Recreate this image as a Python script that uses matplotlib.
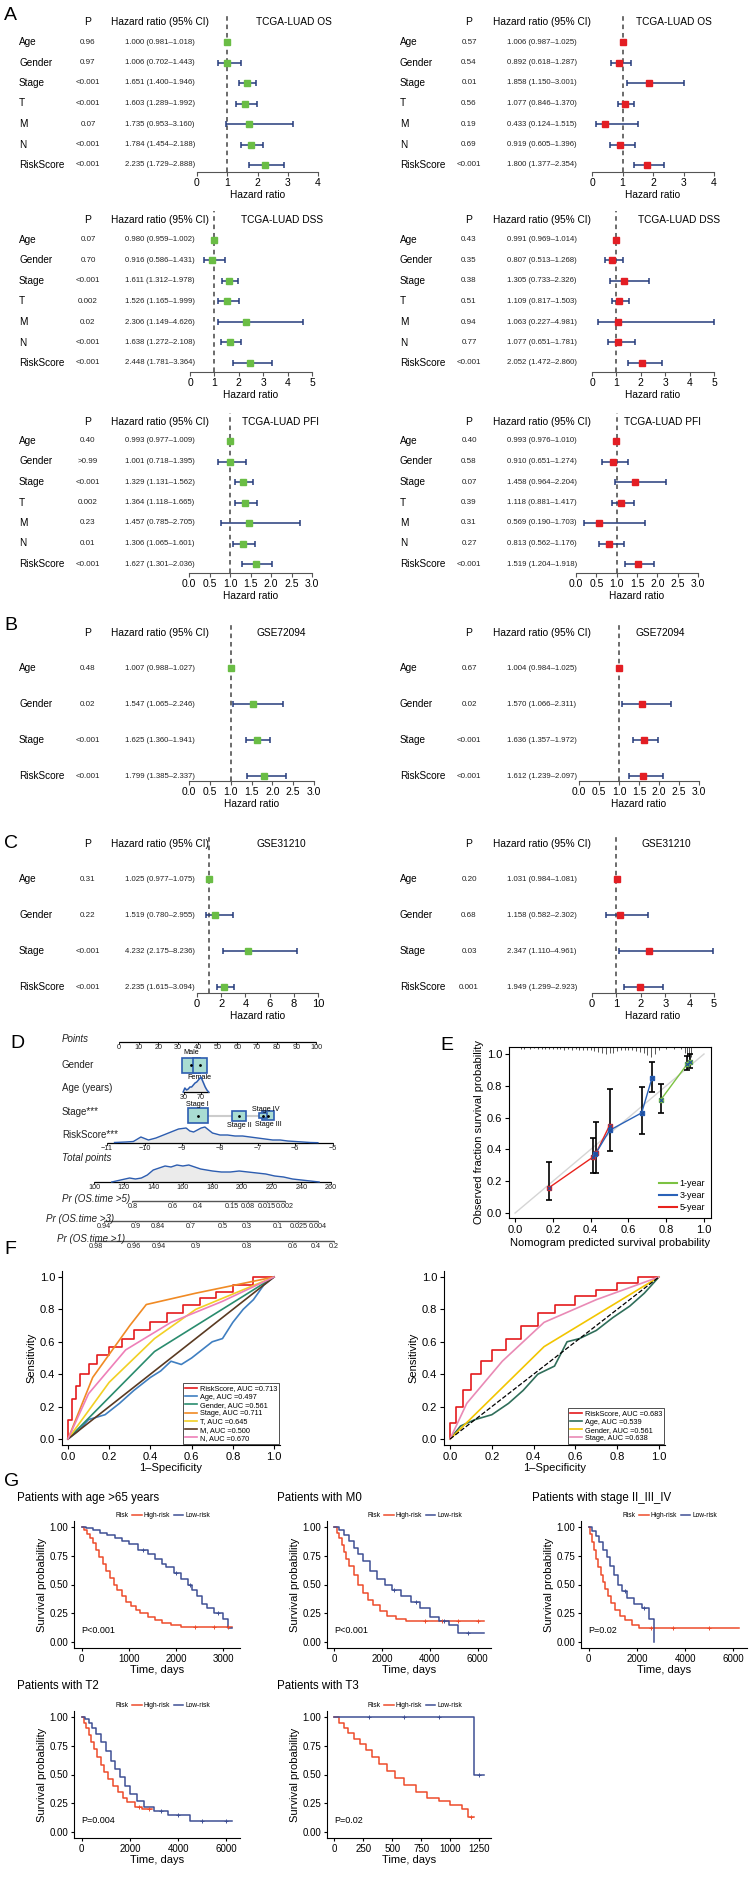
import numpy as np
import matplotlib
matplotlib.use("Agg")
import matplotlib.pyplot as plt
from matplotlib.transforms import blended_transform_factory
from matplotlib.lines import Line2D
from matplotlib.patches import Rectangle

plt.rcParams['font.family'] = ['Liberation Sans', 'DejaVu Sans']

# ---------------- data: forest plots ----------------
vars7 = ["Age", "Gender", "Stage", "T", "M", "N", "RiskScore"]
vars4 = ["Age", "Gender", "Stage", "RiskScore"]

os_uni_p = ["0.96", "0.97", "<0.001", "<0.001", "0.07", "<0.001", "<0.001"]
os_uni_hr = [1.000, 1.006, 1.651, 1.603, 1.735, 1.784, 2.235]
os_uni_lo = [0.981, 0.702, 1.400, 1.289, 0.953, 1.454, 1.729]
os_uni_hi = [1.018, 1.443, 1.946, 1.992, 3.160, 2.188, 2.888]

os_multi_p = ["0.57", "0.54", "0.01", "0.56", "0.19", "0.69", "<0.001"]
os_multi_hr = [1.006, 0.892, 1.858, 1.077, 0.433, 0.919, 1.800]
os_multi_lo = [0.987, 0.618, 1.150, 0.846, 0.124, 0.605, 1.377]
os_multi_hi = [1.025, 1.287, 3.001, 1.370, 1.515, 1.396, 2.354]

dss_uni_p = ["0.07", "0.70", "<0.001", "0.002", "0.02", "<0.001", "<0.001"]
dss_uni_hr = [0.980, 0.916, 1.611, 1.526, 2.306, 1.638, 2.448]
dss_uni_lo = [0.959, 0.586, 1.312, 1.165, 1.149, 1.272, 1.781]
dss_uni_hi = [1.002, 1.431, 1.978, 1.999, 4.626, 2.108, 3.364]

dss_multi_p = ["0.43", "0.35", "0.38", "0.51", "0.94", "0.77", "<0.001"]
dss_multi_hr = [0.991, 0.807, 1.305, 1.109, 1.063, 1.077, 2.052]
dss_multi_lo = [0.969, 0.513, 0.733, 0.817, 0.227, 0.651, 1.472]
dss_multi_hi = [1.014, 1.268, 2.326, 1.503, 4.981, 1.781, 2.860]

pfi_uni_p = ["0.40", ">0.99", "<0.001", "0.002", "0.23", "0.01", "<0.001"]
pfi_uni_hr = [0.993, 1.001, 1.329, 1.364, 1.457, 1.306, 1.627]
pfi_uni_lo = [0.977, 0.718, 1.131, 1.118, 0.785, 1.065, 1.301]
pfi_uni_hi = [1.009, 1.395, 1.562, 1.665, 2.705, 1.601, 2.036]

pfi_multi_p = ["0.40", "0.58", "0.07", "0.39", "0.31", "0.27", "<0.001"]
pfi_multi_hr = [0.993, 0.910, 1.458, 1.118, 0.569, 0.813, 1.519]
pfi_multi_lo = [0.976, 0.651, 0.964, 0.881, 0.190, 0.562, 1.204]
pfi_multi_hi = [1.010, 1.274, 2.204, 1.417, 1.703, 1.176, 1.918]

g72_uni_p = ["0.48", "0.02", "<0.001", "<0.001"]
g72_uni_hr = [1.007, 1.547, 1.625, 1.799]
g72_uni_lo = [0.988, 1.065, 1.360, 1.385]
g72_uni_hi = [1.027, 2.246, 1.941, 2.337]

g72_multi_p = ["0.67", "0.02", "<0.001", "<0.001"]
g72_multi_hr = [1.004, 1.570, 1.636, 1.612]
g72_multi_lo = [0.984, 1.066, 1.357, 1.239]
g72_multi_hi = [1.025, 2.311, 1.972, 2.097]

g31_uni_p = ["0.31", "0.22", "<0.001", "<0.001"]
g31_uni_hr = [1.025, 1.519, 4.232, 2.235]
g31_uni_lo = [0.977, 0.780, 2.175, 1.615]
g31_uni_hi = [1.075, 2.955, 8.236, 3.094]

g31_multi_p = ["0.20", "0.68", "0.03", "0.001"]
g31_multi_hr = [1.031, 1.158, 2.347, 1.949]
g31_multi_lo = [0.984, 0.582, 1.110, 1.299]
g31_multi_hi = [1.081, 2.302, 4.961, 2.923]

# ---------------- data: nomogram ----------------
points_ticks = [0, 10, 20, 30, 40, 50, 60, 70, 80, 90, 100]
gender_levels = ["Male", "Female"]
gender_pts = [36.5, 41.0]
gender_box_w = [9.0, 7.2]
age_ticks = [30, 70]
age_dens_x = [28, 32, 36, 40, 44, 48, 52, 56, 60, 64, 68, 70, 72, 76, 80, 84, 88]
age_dens_h = [0, 4, 2, 3, 5, 5, 7, 9, 10, 12, 14, 15, 13, 9, 5, 2, 0]
stage_levels = ["Stage I", "Stage II", "Stage III", "Stage IV"]
stage_pts = [40.0, 61.0, 75.6, 73.0]
stage_box_w = [10.0, 7.0, 6.0, 4.0]
stage_box_h = [15, 10, 9, 5]
rs_ticks = [-11, -10, -9, -8, -7, -6, -5]
rs_dens_x = [-10.8, -10.5, -10.3, -10.1, -9.9, -9.7, -9.5, -9.3, -9.1, -8.9, -8.8, -8.7, -8.6, -8.5,
             -8.4, -8.3, -8.2, -8.1, -8.0, -7.8, -7.6, -7.4, -7.2, -7.0, -6.8, -6.6, -6.4, -6.2,
             -6.0, -5.8, -5.6, -5.4]
rs_dens_h = [0.5, 1, 1.5, 6, 3, 5, 8, 11, 14, 15, 12, 11, 13, 15, 16, 13, 10, 9, 8, 8, 7, 7, 6, 5,
             4, 3, 3, 2, 1.5, 1, 0.5, 0.3]
tp_ticks = [100, 120, 140, 160, 180, 200, 220, 240, 260]
tp_dens_x = [112, 118, 124, 128, 132, 136, 140, 144, 148, 152, 156, 160, 164, 168, 172, 176, 180,
             186, 192, 198, 204, 210, 216, 222, 228, 234, 240, 246, 252]
tp_dens_h = [0, 2, 4, 3, 4, 7, 12, 14, 16, 15, 17, 16, 17, 15, 13, 12, 11, 10, 10, 11, 10, 9, 8,
             6, 5, 3, 2, 1, 0]
pr5_labels = ["0.8", "0.6", "0.4", "0.15", "0.08", "0.015", "0.002"]
pr5_tp = [126, 153, 170, 193, 204, 217, 229]
pr3_labels = ["0.94", "0.9", "0.84", "0.7", "0.5", "0.3", "0.1", "0.025", "0.004"]
pr3_tp = [107, 128, 143, 165, 187, 203, 224, 238, 251]
pr1_labels = ["0.98", "0.96", "0.94", "0.9", "0.8", "0.6", "0.4", "0.2"]
pr1_tp = [101, 127, 144, 169, 203, 234, 250, 262]

# ---------------- data: calibration ----------------
cal1_x = [0.77, 0.91, 0.925]
cal1_y = [0.71, 0.935, 0.95]
cal3_x = [0.425, 0.50, 0.67, 0.725]
cal3_y = [0.37, 0.52, 0.63, 0.85]
cal5_x = [0.18, 0.41, 0.43, 0.50]
cal5_y = [0.16, 0.35, 0.38, 0.55]
err_x = [0.18, 0.41, 0.43, 0.50, 0.67, 0.725, 0.77, 0.91, 0.925]
err_lo = [0.08, 0.25, 0.25, 0.39, 0.50, 0.76, 0.63, 0.90, 0.91]
err_hi = [0.32, 0.47, 0.57, 0.78, 0.79, 0.95, 0.81, 0.99, 1.00]
rug_x = [0.03, 0.05, 0.08, 0.10, 0.12, 0.14, 0.16, 0.18, 0.20, 0.22, 0.24, 0.26, 0.28, 0.30,
         0.32, 0.34, 0.36, 0.38, 0.40, 0.42, 0.44, 0.46, 0.48, 0.50, 0.52, 0.54, 0.56, 0.58,
         0.60, 0.62, 0.64, 0.66, 0.68, 0.70, 0.72, 0.74, 0.76, 0.80, 0.84, 0.88, 0.90, 0.91,
         0.92, 0.93]
rug_h = [0.012, 0.010, 0.014, 0.008, 0.012, 0.010, 0.015, 0.012, 0.010, 0.014, 0.012, 0.016,
         0.012, 0.018, 0.014, 0.020, 0.016, 0.018, 0.020, 0.024, 0.030, 0.038, 0.045, 0.040,
         0.035, 0.025, 0.020, 0.018, 0.022, 0.018, 0.024, 0.030, 0.040, 0.050, 0.060, 0.045,
         0.020, 0.010, 0.012, 0.015, 0.040, 0.070, 0.090, 0.060]

# ---------------- data: ROC ----------------
rocL = {
    "RiskScore, AUC =0.713": ([0, 0, 0.02, 0.02, 0.04, 0.04, 0.06, 0.06, 0.1, 0.1, 0.14, 0.14, 0.2, 0.2,
                               0.26, 0.26, 0.32, 0.32, 0.4, 0.4, 0.48, 0.48, 0.56, 0.56, 0.64, 0.64,
                               0.72, 0.72, 0.8, 0.8, 0.9, 0.9, 1.0],
                              [0, 0.12, 0.12, 0.25, 0.25, 0.33, 0.33, 0.4, 0.4, 0.46, 0.46, 0.52, 0.52,
                               0.57, 0.57, 0.62, 0.62, 0.67, 0.67, 0.72, 0.72, 0.78, 0.78, 0.83, 0.83,
                               0.87, 0.87, 0.91, 0.91, 0.95, 0.95, 1.0, 1.0]),
    "Age, AUC =0.497": ([0, 0.05, 0.1, 0.18, 0.25, 0.32, 0.4, 0.45, 0.5, 0.55, 0.6, 0.65, 0.7, 0.75,
                         0.8, 0.85, 0.9, 0.95, 1.0],
                        [0, 0.05, 0.12, 0.15, 0.22, 0.3, 0.38, 0.42, 0.48, 0.46, 0.5, 0.55, 0.6, 0.62,
                         0.72, 0.8, 0.86, 0.95, 1.0]),
    "Gender, AUC =0.561": ([0, 0.42, 1.0], [0, 0.54, 1.0]),
    "Stage, AUC =0.711": ([0, 0.12, 0.3, 0.38, 0.62, 1.0], [0, 0.38, 0.7, 0.83, 0.9, 1.0]),
    "T, AUC =0.645": ([0, 0.2, 0.42, 0.62, 1.0], [0, 0.35, 0.62, 0.8, 1.0]),
    "M, AUC =0.500": ([0, 0.06, 1.0], [0, 0.06, 1.0]),
    "N, AUC =0.670": ([0, 0.1, 0.28, 0.5, 0.75, 1.0], [0, 0.28, 0.55, 0.72, 0.85, 1.0]),
}
rocL_colors = ["#E41A1C", "#3F7FC1", "#2A8C6E", "#F08A24", "#F2D024", "#5A3A22", "#EE7FB8"]
rocR = {
    "RiskScore, AUC =0.683": ([0, 0, 0.03, 0.03, 0.06, 0.06, 0.1, 0.1, 0.15, 0.15, 0.2, 0.2, 0.27, 0.27,
                               0.34, 0.34, 0.42, 0.42, 0.5, 0.5, 0.6, 0.6, 0.7, 0.7, 0.8, 0.8, 0.9,
                               0.9, 1.0],
                              [0, 0.1, 0.1, 0.2, 0.2, 0.3, 0.3, 0.4, 0.4, 0.48, 0.48, 0.55, 0.55, 0.62,
                               0.62, 0.7, 0.7, 0.78, 0.78, 0.83, 0.83, 0.88, 0.88, 0.92, 0.92, 0.96,
                               0.96, 1.0, 1.0]),
    "Age, AUC =0.539": ([0, 0.05, 0.12, 0.2, 0.28, 0.35, 0.42, 0.5, 0.56, 0.62, 0.7, 0.78, 0.86, 0.93, 1.0],
                        [0, 0.08, 0.12, 0.15, 0.22, 0.3, 0.4, 0.45, 0.6, 0.62, 0.67, 0.75, 0.82, 0.9, 1.0]),
    "Gender, AUC =0.561": ([0, 0.45, 1.0], [0, 0.57, 1.0]),
    "Stage, AUC =0.638": ([0, 0.08, 0.25, 0.45, 0.7, 1.0], [0, 0.22, 0.48, 0.72, 0.86, 1.0]),
}
rocR_colors = ["#E41A1C", "#2F6E5A", "#F2C500", "#E98AB5"]

# ---------------- data: Kaplan-Meier ----------------
km1_high_t = [0, 60, 120, 180, 240, 300, 380, 450, 520, 600, 680, 760, 850, 950, 1050, 1150, 1250,
              1400, 1550, 1700, 1900, 2100, 3200]
km1_high_s = [1.0, 0.97, 0.94, 0.9, 0.86, 0.8, 0.74, 0.68, 0.62, 0.56, 0.5, 0.45, 0.4, 0.35, 0.31,
              0.28, 0.25, 0.22, 0.19, 0.17, 0.15, 0.13, 0.13]
km1_low_t = [0, 100, 250, 400, 550, 700, 850, 1000, 1200, 1400, 1550, 1700, 1800, 1950, 2100, 2250,
             2350, 2450, 2550, 2650, 2800, 3000, 3100, 3200]
km1_low_s = [1.0, 0.99, 0.97, 0.95, 0.93, 0.9, 0.88, 0.85, 0.8, 0.76, 0.72, 0.68, 0.65, 0.6, 0.55,
             0.5, 0.45, 0.4, 0.33, 0.3, 0.25, 0.2, 0.12, 0.12]

km2_high_t = [0, 100, 200, 300, 400, 500, 600, 800, 1000, 1200, 1400, 1600, 1900, 2200, 2600, 3000,
              3500, 6250]
km2_high_s = [1.0, 0.95, 0.9, 0.84, 0.78, 0.72, 0.66, 0.58, 0.5, 0.43, 0.37, 0.32, 0.27, 0.23, 0.2,
              0.18, 0.18, 0.18]
km2_low_t = [0, 200, 400, 600, 800, 1000, 1200, 1500, 1800, 2100, 2400, 2800, 3200, 3600, 4000,
             4400, 4800, 5200, 6250]
km2_low_s = [1.0, 0.97, 0.93, 0.88, 0.82, 0.76, 0.7, 0.62, 0.55, 0.5, 0.45, 0.4, 0.35, 0.3, 0.22,
             0.18, 0.15, 0.08, 0.08]

km3_high_t = [0, 80, 160, 240, 320, 400, 500, 600, 700, 800, 950, 1100, 1300, 1500, 1800, 2100, 6250]
km3_high_s = [1.0, 0.94, 0.87, 0.8, 0.72, 0.65, 0.58, 0.52, 0.46, 0.4, 0.34, 0.28, 0.23, 0.19, 0.15,
              0.12, 0.12]
km3_low_t = [0, 150, 300, 450, 600, 750, 900, 1050, 1200, 1400, 1600, 1900, 2200, 2500, 2650, 2700]
km3_low_s = [1.0, 0.96, 0.92, 0.87, 0.8, 0.74, 0.66, 0.58, 0.5, 0.44, 0.38, 0.33, 0.3, 0.2, 0.2, 0.0]

km4_high_t = [0, 100, 200, 300, 400, 500, 650, 800, 950, 1100, 1300, 1500, 1700, 1900, 2200, 2500, 2900]
km4_high_s = [1.0, 0.95, 0.9, 0.84, 0.78, 0.72, 0.65, 0.58, 0.52, 0.46, 0.4, 0.35, 0.3, 0.26, 0.22,
              0.2, 0.2]
km4_low_t = [0, 150, 300, 450, 600, 800, 1000, 1200, 1400, 1600, 1800, 2000, 2300, 2600, 3000, 3600,
             4500, 6250]
km4_low_s = [1.0, 0.98, 0.95, 0.9, 0.85, 0.78, 0.7, 0.62, 0.55, 0.48, 0.4, 0.33, 0.27, 0.22, 0.18,
             0.15, 0.1, 0.1]

km5_high_t = [0, 40, 80, 120, 170, 220, 270, 320, 380, 450, 520, 600, 700, 800, 900, 1000, 1100,
              1150, 1200]
km5_high_s = [1.0, 0.95, 0.9, 0.86, 0.81, 0.76, 0.71, 0.65, 0.59, 0.53, 0.47, 0.41, 0.35, 0.3, 0.27,
              0.24, 0.2, 0.13, 0.13]
km5_low_t = [0, 1200, 1285]
km5_low_s = [1.0, 0.5, 0.5]

# ---------------- figure ----------------
W, H = 753, 1884
fig = plt.figure(figsize=(W / 100, H / 100), dpi=100)

GREEN = "#6ABD45"
RED = "#E31E24"
NAVY = "#263C7C"
HIGH = "#EE4B2B"
LOW = "#3E4F94"


def px_axes(x0, y0, x1, y1):
    return fig.add_axes([x0 / W, 1 - y1 / H, (x1 - x0) / W, (y1 - y0) / H])


def letter(x, y, s):
    fig.text(x / W, 1 - y / H, s, fontsize=14, va='center', ha='left')


def forest(x0, x1, age_px, sp, axis_px, header_px, xmax, ticks, ticklabels,
           labels, pvals, hr, lo, hi, color, title, cols, title_x, tick_fs=7.5):
    n = len(labels)
    top_px = header_px - 9
    ax = px_axes(x0, top_px, x1, axis_px)

    def ypos(p):
        return n - (p - age_px) / sp
    ax.set_ylim(ypos(axis_px), ypos(top_px))
    ax.set_xlim(0, xmax)
    ys = np.arange(n, 0, -1)
    hr = np.array(hr)
    ax.axvline(1, ls=(0, (3, 2.5)), color='#444444', lw=1.1, zorder=1)
    ax.errorbar(hr, ys, xerr=[hr - np.array(lo), np.array(hi) - hr], fmt='none',
                ecolor=NAVY, elinewidth=1.1, capsize=2.5, capthick=1.1, zorder=2)
    ax.plot(hr, ys, 's', color=color, ms=4.8, zorder=3)
    for s in ['top', 'right', 'left']:
        ax.spines[s].set_visible(False)
    ax.spines['bottom'].set_color('#555555')
    ax.set_yticks([])
    ax.set_xticks(ticks)
    ax.set_xticklabels(ticklabels, fontsize=tick_fs)
    ax.tick_params(axis='x', length=3, pad=1.5, color='#555555')
    ax.set_xlabel('Hazard ratio', fontsize=7.3, labelpad=1.5)
    ax.patch.set_alpha(0)
    tr = blended_transform_factory(fig.transFigure, ax.transData)
    lab_x, p_x, hr_x = cols
    yh = ypos(header_px)
    ax.text(p_x / W, yh, "P", transform=tr, ha='center', va='center', fontsize=7.5)
    ax.text(hr_x / W, yh, "Hazard ratio (95% CI)", transform=tr, ha='center', va='center', fontsize=7.3)
    ax.text(title_x / W, yh, title, transform=tr, ha='center', va='center', fontsize=7.3)
    for i in range(n):
        y = ys[i]
        ax.text(lab_x / W, y, labels[i], transform=tr, ha='left', va='center', fontsize=7.2)
        ax.text(p_x / W, y, pvals[i], transform=tr, ha='center', va='center', fontsize=5.8, color='#222222')
        ax.text(hr_x / W, y, f"{hr[i]:.3f} ({lo[i]:.3f}\u2013{hi[i]:.3f})", transform=tr,
                ha='center', va='center', fontsize=5.6, color='#222222')
    return ax


L_COLS = (19, 88, 160)
R_COLS = (400, 469, 542)
t4 = [0, 1, 2, 3, 4]
t5 = [0, 1, 2, 3, 4, 5]
t3 = [0, 0.5, 1.0, 1.5, 2.0, 2.5, 3.0]
t3l = [f"{v:.1f}" for v in t3]
t10 = [0, 2, 4, 6, 8, 10]

letter(4, 15, "A")
forest(197, 318, 42, 20.5, 172, 22, 4, t4, t4, vars7, os_uni_p, os_uni_hr, os_uni_lo, os_uni_hi,
       GREEN, "TCGA-LUAD OS", L_COLS, 294)
forest(592, 714, 42, 20.5, 172, 22, 4, t4, t4, vars7, os_multi_p, os_multi_hr, os_multi_lo, os_multi_hi,
       RED, "TCGA-LUAD OS", R_COLS, 674)
forest(190, 312, 240, 20.5, 372, 220, 5, t5, t5, vars7, dss_uni_p, dss_uni_hr, dss_uni_lo, dss_uni_hi,
       GREEN, "TCGA-LUAD DSS", L_COLS, 282)
forest(592, 714, 240, 20.5, 372, 220, 5, t5, t5, vars7, dss_multi_p, dss_multi_hr, dss_multi_lo, dss_multi_hi,
       RED, "TCGA-LUAD DSS", R_COLS, 679)
forest(189, 312, 441, 20.5, 573, 422, 3, t3, t3l, vars7, pfi_uni_p, pfi_uni_hr, pfi_uni_lo, pfi_uni_hi,
       GREEN, "TCGA-LUAD PFI", L_COLS, 281)
forest(576, 698, 441, 20.5, 573, 422, 3, t3, t3l, vars7, pfi_multi_p, pfi_multi_hr, pfi_multi_lo, pfi_multi_hi,
       RED, "TCGA-LUAD PFI", R_COLS, 663)

letter(4, 625, "B")
forest(189, 314, 668, 36, 781, 633, 3, t3, t3l, vars4, g72_uni_p, g72_uni_hr, g72_uni_lo, g72_uni_hi,
       GREEN, "GSE72094", L_COLS, 281)
forest(579, 699, 668, 36, 781, 633, 3, t3, t3l, vars4, g72_multi_p, g72_multi_hr, g72_multi_lo, g72_multi_hi,
       RED, "GSE72094", R_COLS, 660)

letter(4, 844, "C")
forest(197, 318, 879, 36, 993, 844, 10, t10, t10, vars4, g31_uni_p, g31_uni_hr, g31_uni_lo, g31_uni_hi,
       GREEN, "GSE31210", L_COLS, 281, tick_fs=8)
forest(592, 714, 879, 36, 993, 844, 5, t5, t5, vars4, g31_multi_p, g31_multi_hr, g31_multi_lo, g31_multi_hi,
       RED, "GSE31210", R_COLS, 666, tick_fs=8)

# ---------------- D: nomogram ----------------
letter(10, 1043, "D")
PX0, PXPP = 119.0, 1.97
axD = px_axes(20, 1030, 362, 1252)
axD.set_xlim((20 - PX0) / PXPP, (362 - PX0) / PXPP)
axD.set_ylim(1252, 1030)
axD.axis('off')
trD = blended_transform_factory(fig.transFigure, axD.transData)


def rs_to_pts(v):
    return -6.1 + (np.asarray(v, float) + 11) * (114.7 / 6)


def tp_to_pts(v):
    return -12.7 + (np.asarray(v, float) - 100) * (120.3 / 160)


def age_to_pts(v):
    return 33.0 + (np.asarray(v, float) - 30) * (8.6 / 40)


def nomo_scale(y, pos, labels, fs=5.2, color='k', lw=0.9, tl=2.0, extent=None):
    pos = np.asarray(pos, float)
    a, b = (pos.min(), pos.max()) if extent is None else extent
    axD.plot([a, b], [y, y], color=color, lw=lw, solid_capstyle='butt')
    for p, l in zip(pos, labels):
        axD.plot([p, p], [y, y + tl], color=color, lw=0.6)
        axD.text(p, y + tl + 0.5, str(l), ha='center', va='top', fontsize=fs, color='#222222')


def row_label(y, s, italic=False, x=62):
    axD.text(x / W, y, s, transform=trD, ha='left', va='center', fontsize=7,
             style='italic' if italic else 'normal', color='#222222')


BOXF = "#A9DCD2"
BOXE = "#2D5DB0"

row_label(1039, "Points", True)
nomo_scale(1042, points_ticks, points_ticks)

row_label(1065, "Gender")
for lvl, p, w in zip(gender_levels, gender_pts, gender_box_w):
    axD.add_patch(Rectangle((p - w / 2, 1058), w, 15, facecolor=BOXF, edgecolor=BOXE, lw=1.2, zorder=3))
    axD.plot(p, 1065.5, 'o', color='k', ms=1, zorder=4)
axD.text(gender_pts[0], 1056, gender_levels[0], ha='center', va='bottom', fontsize=5.2)
axD.text(gender_pts[1], 1074, gender_levels[1], ha='center', va='top', fontsize=5.2)

row_label(1088, "Age (years)")
ax_pos = age_to_pts(age_dens_x)
axD.fill_between(ax_pos, 1092, 1092 - np.array(age_dens_h), color='#EBEBEB', zorder=2)
axD.plot(ax_pos, 1092 - np.array(age_dens_h), color=BOXE, lw=1.1, zorder=3)
nomo_scale(1092, age_to_pts(age_ticks), age_ticks, extent=(age_to_pts(28), age_to_pts(88)))

row_label(1112, "Stage***")
axD.plot([stage_pts[0], stage_pts[2]], [1116, 1116], color='#CCCCCC', lw=1.5, zorder=1)
for p, w, h in zip(stage_pts, stage_box_w, stage_box_h):
    axD.add_patch(Rectangle((p - w / 2, 1116 - h / 2), w, h, facecolor=BOXF, edgecolor=BOXE, lw=1.2, zorder=3))
    axD.plot(p, 1116, 'o', color='k', ms=1, zorder=4)
axD.text(stage_pts[0], 1108, stage_levels[0], ha='center', va='bottom', fontsize=5.2)
axD.text(stage_pts[1], 1122, stage_levels[1], ha='center', va='top', fontsize=5.2)
axD.text(stage_pts[2], 1121, stage_levels[2], ha='center', va='top', fontsize=5.2)
axD.text(stage_pts[3] + 1.5, 1113, stage_levels[3], ha='center', va='bottom', fontsize=5.2)

row_label(1135, "RiskScore***")
rp = rs_to_pts(rs_dens_x)
axD.fill_between(rp, 1143, 1143 - np.array(rs_dens_h), color='#EBEBEB', zorder=2)
axD.plot(rp, 1143 - np.array(rs_dens_h), color=BOXE, lw=1.0, zorder=3)
nomo_scale(1143, rs_to_pts(rs_ticks), [f"\u2212{abs(v)}" for v in rs_ticks])

row_label(1158, "Total points", True)
tpp = tp_to_pts(tp_dens_x)
axD.fill_between(tpp, 1182, 1182 - np.array(tp_dens_h), color='#EBEBEB', zorder=2)
axD.plot(tpp, 1182 - np.array(tp_dens_h), color=BOXE, lw=1.0, zorder=3)
nomo_scale(1182, tp_to_pts(tp_ticks), tp_ticks)

for y, lab, vals, tps, lx in [(1201, "Pr (OS.time >5)", pr5_labels, pr5_tp, 62),
                              (1221, "Pr (OS.time >3)", pr3_labels, pr3_tp, 46),
                              (1241, "Pr (OS.time >1)", pr1_labels, pr1_tp, 57)]:
    pp = tp_to_pts(tps)
    nomo_scale(y, pp, vals, color='#555555', lw=1.0, tl=1.5)
    axD.text(lx / W, y - 2, lab, transform=trD, ha='left', va='center', fontsize=7,
             style='italic', color='#222222')

# ---------------- E: calibration ----------------
letter(440, 1045, "E")
axE = px_axes(509, 1047, 711, 1218)
axE.set_xlim(-0.032, 1.037)
axE.set_ylim(-0.031, 1.044)
axE.plot([0, 1], [0, 1], color='#D5D5D5', lw=1, zorder=1)
axE.vlines(rug_x, 1.044 - np.array(rug_h), 1.044, color='#555555', lw=0.7)
axE.vlines(err_x, err_lo, err_hi, color='k', lw=1.2, zorder=3)
axE.plot(err_x, err_lo, '_', color='k', ms=5, mew=1.2, zorder=3)
axE.plot(err_x, err_hi, '_', color='k', ms=5, mew=1.2, zorder=3)
for xs, ys, c, lab in [(cal5_x, cal5_y, "#E8231D", "5-year"),
                       (cal3_x, cal3_y, "#2A62B8", "3-year"),
                       (cal1_x, cal1_y, "#7CC242", "1-year")]:
    axE.plot(xs, ys, '-', color=c, lw=1.0, zorder=4)
    axE.plot(xs, ys, 's', color=c, ms=3.2, zorder=5)
    axE.plot(xs, ys, 'x', color='#1F4E9E', ms=3.5, mew=0.8, zorder=6)
axE.set_xticks([0, 0.2, 0.4, 0.6, 0.8, 1.0])
axE.set_yticks([0, 0.2, 0.4, 0.6, 0.8, 1.0])
axE.set_xticklabels(["0.0", "0.2", "0.4", "0.6", "0.8", "1.0"], fontsize=8)
axE.set_yticklabels(["0.0", "0.2", "0.4", "0.6", "0.8", "1.0"], fontsize=8)
axE.tick_params(length=3, pad=2)
axE.set_xlabel("Nomogram predicted survival probability", fontsize=8, labelpad=2)
axE.set_ylabel("Observed fraction survival probability", fontsize=8, labelpad=2)
axE.legend(handles=[Line2D([], [], color="#7CC242", lw=1.5), Line2D([], [], color="#2A62B8", lw=1.5),
                    Line2D([], [], color="#E8231D", lw=1.5)],
           labels=["1-year", "3-year", "5-year"], loc='lower right', frameon=False, fontsize=6.5,
           handlelength=2.0, handletextpad=0.2, labelspacing=0.3, borderaxespad=0.3)

# ---------------- F: ROC ----------------
letter(4, 1250, "F")


def roc_panel(box, xlim, curves, colors, diag=False):
    ax = px_axes(*box)
    ax.set_xlim(*xlim)
    ax.set_ylim(-0.037, 1.037)
    hs = []
    for (lab, (fx, ty)), c in zip(curves.items(), colors):
        h, = ax.plot(fx, ty, color=c, lw=1.2, label=lab)
        hs.append(h)
    if diag:
        ax.plot([0, 1], [0, 1], ls='--', color='k', lw=0.9)
    for s in ['top', 'right']:
        ax.spines[s].set_visible(False)
    ticks = [0, 0.2, 0.4, 0.6, 0.8, 1.0]
    ax.set_xticks(ticks)
    ax.set_yticks(ticks)
    ax.set_xticklabels([f"{t:.1f}" for t in ticks], fontsize=8)
    ax.set_yticklabels([f"{t:.1f}" for t in ticks], fontsize=8)
    ax.tick_params(length=3, pad=2)
    ax.set_xlabel("1\u2013Specificity", fontsize=8, labelpad=1)
    ax.set_ylabel("Sensitivity", fontsize=8, labelpad=2)
    leg = ax.legend(handles=hs, loc='lower right', fontsize=5.3, frameon=True, fancybox=False,
                    handlelength=1.6, handletextpad=0.4, labelspacing=0.15, borderpad=0.3,
                    borderaxespad=0.1)
    leg.get_frame().set_edgecolor('k')
    leg.get_frame().set_linewidth(0.6)
    return ax


roc_panel((62, 1271, 280, 1445), (-0.029, 1.029), rocL, rocL_colors)
roc_panel((444, 1271, 665, 1445), (-0.029, 1.029), rocR, rocR_colors, diag=True)

# ---------------- G: KM ----------------
letter(4, 1481, "G")


def step_at(ts, ss, c):
    idx = np.searchsorted(ts, c, side='right') - 1
    return np.array(ss)[idx]


def km_panel(box, title, title_px, ht, hs, lt, ls_, tmax, xticks, ptxt, cens_h, cens_l):
    ax = px_axes(*box)
    ax.step(ht, hs, where='post', color=HIGH, lw=1.1)
    ax.step(lt, ls_, where='post', color=LOW, lw=1.1)
    ax.plot(cens_h, step_at(ht, hs, cens_h), '+', color=HIGH, ms=3, mew=0.7)
    ax.plot(cens_l, step_at(lt, ls_, cens_l), '+', color=LOW, ms=3, mew=0.7)
    ax.set_xlim(-0.05 * tmax, 1.05 * tmax)
    ax.set_ylim(-0.05, 1.05)
    for s in ['top', 'right']:
        ax.spines[s].set_visible(False)
    ax.set_xticks(xticks)
    ax.set_xticklabels([str(t) for t in xticks], fontsize=7)
    ax.set_yticks([0, 0.25, 0.5, 0.75, 1.0])
    ax.set_yticklabels(["0.00", "0.25", "0.50", "0.75", "1.00"], fontsize=7)
    ax.tick_params(length=2.5, pad=1.5)
    ax.set_xlabel("Time, days", fontsize=8, labelpad=1)
    ax.set_ylabel("Survival probability", fontsize=8, labelpad=2)
    ax.text(0.0, 0.1, ptxt, fontsize=6.5, ha='left', va='center')
    ax.legend(handles=[Line2D([], [], color='none'), Line2D([], [], color=HIGH, lw=1.1),
                       Line2D([], [], color=LOW, lw=1.1)],
              labels=["Risk", "High-risk", "Low-risk"], ncol=3, loc='lower center',
              bbox_to_anchor=(0.5, 0.99), frameon=False, fontsize=4.8, handlelength=1.4,
              handletextpad=0.3, columnspacing=0.6, borderaxespad=0.1)
    fig.text(title_px[0] / W, 1 - title_px[1] / H, title, fontsize=8.3, ha='left', va='center')
    return ax


km_panel((74, 1521, 240, 1648), "Patients with age >65 years", (17, 1498),
         km1_high_t, km1_high_s, km1_low_t, km1_low_s, 3200, [0, 1000, 2000, 3000], "P<0.001",
         [2400, 2800, 3100], [1300, 2000, 2300, 2900])
km_panel((327, 1521, 491, 1648), "Patients with M0", (277, 1498),
         km2_high_t, km2_high_s, km2_low_t, km2_low_s, 6250, [0, 2000, 4000, 6000], "P<0.001",
         [3800, 4500, 5200, 6000], [2500, 3400, 4600, 5600])
km_panel((581, 1521, 747, 1648), "Patients with stage II_III_IV", (532, 1498),
         km3_high_t, km3_high_s, km3_low_t, km3_low_s, 6250, [0, 2000, 4000, 6000], "P=0.02",
         [2600, 3500, 5000], [1500, 2300])
km_panel((74, 1711, 240, 1838), "Patients with T2", (17, 1686),
         km4_high_t, km4_high_s, km4_low_t, km4_low_s, 6250, [0, 2000, 4000, 6000], "P=0.004",
         [2400, 2800], [3300, 4000, 5000, 6000])
km_panel((327, 1711, 491, 1838), "Patients with T3", (277, 1686),
         km5_high_t, km5_high_s, km5_low_t, km5_low_s, 1285, [0, 250, 500, 750, 1000, 1250], "P=0.02",
         [1180], [300, 600, 900, 1250])

fig.savefig("out.png", dpi=100)
